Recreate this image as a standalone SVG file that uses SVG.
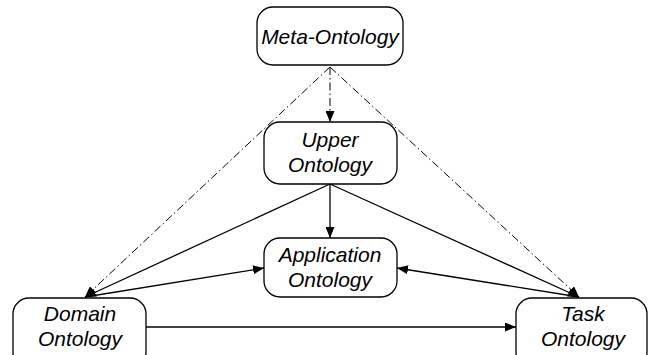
<svg xmlns="http://www.w3.org/2000/svg" width="648" height="355" viewBox="0 0 648 355">
<style>
.box{fill:#fff;stroke:#000;stroke-width:1.3}
.t{font-family:"Liberation Sans",Arial,sans-serif;font-style:italic;font-size:21px;text-anchor:middle;fill:#000}
.s{fill:none;stroke:#000;stroke-width:1.3}
.d{fill:none;stroke:#000;stroke-width:1;stroke-dasharray:8 3 1.5 3}
</style>
<defs>
<marker id="a" viewBox="0 0 11 9" refX="11" refY="4.5" markerWidth="11" markerHeight="9" markerUnits="userSpaceOnUse" orient="auto">
<path d="M0,0 L11,4.5 L0,9 Z" fill="#000"/>
</marker>
</defs>
<rect width="648" height="355" fill="#fff"/>
<g id="connectors">
<path class="d" d="M330,67 L330,122" marker-end="url(#a)"/>
<path class="d" d="M330,67 L85,297" marker-end="url(#a)"/>
<path class="d" d="M330,67 L579,297" marker-end="url(#a)"/>
<path class="s" d="M330,184 L330,238" marker-end="url(#a)"/>
<path class="s" d="M330,184 L85,297" marker-end="url(#a)"/>
<path class="s" d="M330,184 L579,297" marker-end="url(#a)"/>
<path class="s" d="M85,297 L264,268" marker-end="url(#a)"/>
<path class="s" d="M579,297 L397,268" marker-end="url(#a)"/>
<path class="s" d="M146,327 L516,327" marker-end="url(#a)"/>
</g>
<g id="meta">
<rect class="box" x="257" y="7" width="146" height="58" rx="16"/>
<text class="t" x="330" y="44">Meta-Ontology</text>
</g>
<g id="upper">
<rect class="box" x="264" y="122" width="133" height="62" rx="16"/>
<text class="t" x="330" y="147">Upper</text>
<text class="t" x="330" y="172">Ontology</text>
</g>
<g id="application">
<rect class="box" x="264" y="238" width="133" height="59" rx="16"/>
<text class="t" x="330" y="262">Application</text>
<text class="t" x="330" y="287">Ontology</text>
</g>
<g id="domain">
<rect class="box" x="13" y="298" width="133" height="70" rx="16"/>
<text class="t" x="80" y="321">Domain</text>
<text class="t" x="80" y="346">Ontology</text>
</g>
<g id="task">
<rect class="box" x="516" y="298" width="131" height="70" rx="16"/>
<text class="t" x="583" y="321">Task</text>
<text class="t" x="583" y="346">Ontology</text>
</g>
</svg>
